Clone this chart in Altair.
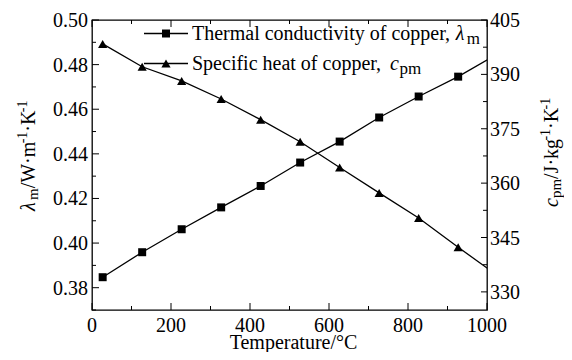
import altair as alt
import pandas as pd

# ---------------- data ----------------
temps = [27, 127, 227, 327, 427, 527, 627, 727, 827, 927, 1027]
lam = [0.3847, 0.3959, 0.4062, 0.4160, 0.4256, 0.4361, 0.4455, 0.4563, 0.4657, 0.4746, 0.4848]
cp = [398.4, 392.1, 388.2, 383.2, 377.5, 371.4, 364.3, 357.3, 350.4, 342.3, 334.5]

x_major = [0, 200, 400, 600, 800, 1000]
x_minor = [100, 300, 500, 700, 900]
left_major = [0.38, 0.40, 0.42, 0.44, 0.46, 0.48, 0.50]
left_minor = [0.37, 0.39, 0.41, 0.43, 0.45, 0.47, 0.49]
right_major = [330, 345, 360, 375, 390, 405]
right_minor = [337.5, 352.5, 367.5, 382.5, 397.5]

x_labels = ["0", "200", "400", "600", "800", "1000"]
left_labels = ["0.38", "0.40", "0.42", "0.44", "0.46", "0.48", "0.50"]
right_labels = ["330", "345", "360", "375", "390", "405"]

legend_labels = ["Thermal conductivity of copper, ", "Specific heat of copper, "]
x_title = "Temperature/°C"

# ---------------- style ----------------
W, H = 395, 290
FONT = "Liberation Serif"
FS = 20
LW = 1.3

df = pd.DataFrame({"T": temps, "lam": lam, "cp": cp})

xs = alt.Scale(domain=[0, 1000], nice=False, zero=False)
ysl = alt.Scale(domain=[0.37, 0.50], nice=False, zero=False)
ysr = alt.Scale(domain=[325, 405], nice=False, zero=False)

X = lambda f: alt.X(f, type="quantitative", scale=xs, axis=None)
YL = lambda f: alt.Y(f, type="quantitative", scale=ysl, axis=None)
YR = lambda f: alt.Y(f, type="quantitative", scale=ysr, axis=None)

one = pd.DataFrame({"a": [0]})

# widths (em) of Times-metric glyphs, used to place text runs
WID = {" ": .25, ",": .25, ".": .25, "/": .278, "-": .333, "1": .5, "·": .25,
       "W": .944, "K": .722, "J": .389, "m": .778, "k": .5, "g": .5, "p": .5,
       "c": .444, "λ": .55, "T": .611, "h": .5, "e": .444, "r": .333, "a": .444,
       "l": .278, "o": .5, "n": .5, "d": .5, "u": .5, "t": .278, "i": .278,
       "v": .5, "y": .5, "f": .333, "S": .556}


def width(s, size):
    return sum(WID.get(ch, .5) for ch in s) * size


def txt(**kw):
    base_kw = dict(font=FONT, color="black")
    base_kw.update(kw)
    return base_kw


def text_run(s, x, y, size, italic=False, angle=0):
    return alt.Chart(one).mark_text(
        **txt(text=s, fontSize=size, fontStyle="italic" if italic else "normal",
              align="left", baseline="alphabetic", angle=angle)
    ).encode(x=alt.value(x), y=alt.value(y))


def rotated_title(runs, xb, y0):
    layers = []
    d = 0.0
    for s, size, italic, shift in runs:
        layers.append(text_run(s, xb + shift, y0 - d, size, italic, angle=270))
        d += width(s, size)
    return layers


left_title_runs = [("λ", 20, True, 0), ("m", 15, False, 3), ("/W·m", 20, False, 0),
                   ("-1", 14, False, -8), ("·K", 20, False, 0), ("-1", 14, False, -8)]
right_title_runs = [("c", 20, True, 0), ("pm", 15, False, 3), ("/J·kg", 20, False, 0),
                    ("-1", 14, False, -8), ("·K", 20, False, 0), ("-1", 14, False, -8)]


def ticks_y(vals, scaleY, x0, x1):
    return alt.Chart(pd.DataFrame({"v": vals})).mark_rule(color="black", strokeWidth=1).encode(
        y=scaleY("v"), x=alt.value(x0), x2=alt.value(x1))


def ticks_x(vals, y0, y1):
    return alt.Chart(pd.DataFrame({"v": vals})).mark_rule(color="black", strokeWidth=1).encode(
        x=X("v"), y=alt.value(y0), y2=alt.value(y1))


def labels_y(vals, labs, scaleY, x, align):
    return alt.Chart(pd.DataFrame({"v": vals, "s": labs})).mark_text(
        **txt(fontSize=FS, align=align, baseline="alphabetic", dy=7)
    ).encode(y=scaleY("v"), x=alt.value(x), text="s:N")


def labels_x(vals, labs, y):
    return alt.Chart(pd.DataFrame({"v": vals, "s": labs})).mark_text(
        **txt(fontSize=FS, align="center", baseline="alphabetic")
    ).encode(x=X("v"), y=alt.value(y), text="s:N")


base = alt.Chart(df)

lam_line = base.mark_line(color="black", strokeWidth=LW, clip=True).encode(x=X("T"), y=YL("lam"))
lam_pts = base.mark_point(shape="square", filled=True, size=64, color="black", opacity=1,
                          clip=True).encode(x=X("T"), y=YL("lam"))
cp_line = base.mark_line(color="black", strokeWidth=LW, clip=True).encode(x=X("T"), y=YR("cp"))
cp_pts = base.mark_point(shape="triangle-up", filled=True, size=85, color="black", opacity=1,
                         clip=True).encode(x=X("T"), y=YR("cp"))

# legend (annotation)
leg = []
for i, (lab, shape) in enumerate(zip(legend_labels, ["square", "triangle-up"])):
    yl = 13.5 + 30 * i
    leg.append(alt.Chart(one).mark_rule(color="black", strokeWidth=LW).encode(
        x=alt.value(52), x2=alt.value(96), y=alt.value(yl)))
    leg.append(alt.Chart(one).mark_point(shape=shape, filled=True, size=64 if i == 0 else 85,
                                         color="black", opacity=1).encode(
        x=alt.value(74), y=alt.value(yl)))
    yb = 20 + 30 * i
    leg.append(text_run(lab, 100, yb, FS))
    x2 = 100 + width(lab, FS)
    if i == 0:
        leg.append(text_run("λ", x2, yb, FS, True))
        leg.append(text_run("m", x2 + 0.55 * FS, yb + 4, 17))
    else:
        leg.append(text_run("c", x2 + 3, yb, FS, True))
        leg.append(text_run("pm", x2 + 3 + 0.48 * FS, yb + 4, 17))

x_title_mark = alt.Chart(one).mark_text(
    **txt(text=x_title, fontSize=FS, align="center", baseline="alphabetic")
).encode(x=alt.value(W / 2 + 4), y=alt.value(H + 39))

left_layer = alt.layer(
    lam_line, lam_pts,
    ticks_y(left_major, YL, 0, 7), ticks_y(left_minor, YL, 0, 4),
    ticks_x(x_major, H, H - 7), ticks_x(x_minor, H, H - 4),
    ticks_x(x_major, 0, 7), ticks_x(x_minor, 0, 4),
    labels_y(left_major, left_labels, YL, -4, "right"),
    labels_x(x_major, x_labels, H + 22),
    x_title_mark,
    *rotated_title(left_title_runs, -57, 191),
    *leg,
)
right_layer = alt.layer(
    cp_line, cp_pts,
    ticks_y(right_major, YR, W, W - 6), ticks_y(right_minor, YR, W, W - 4),
    labels_y(right_major, right_labels, YR, W + 3, "left"),
    *rotated_title(right_title_runs, 466, 187),
)

chart = alt.layer(left_layer, right_layer).resolve_scale(y="independent").properties(
    width=W, height=H,
    autosize=alt.AutoSizeParams(type="none"),
    padding={"left": 84, "top": 12, "right": 77, "bottom": 42},
    background="white",
).configure_view(stroke="black", strokeWidth=LW)

chart.save("out.html", embed_options={"renderer": "svg", "actions": False})
